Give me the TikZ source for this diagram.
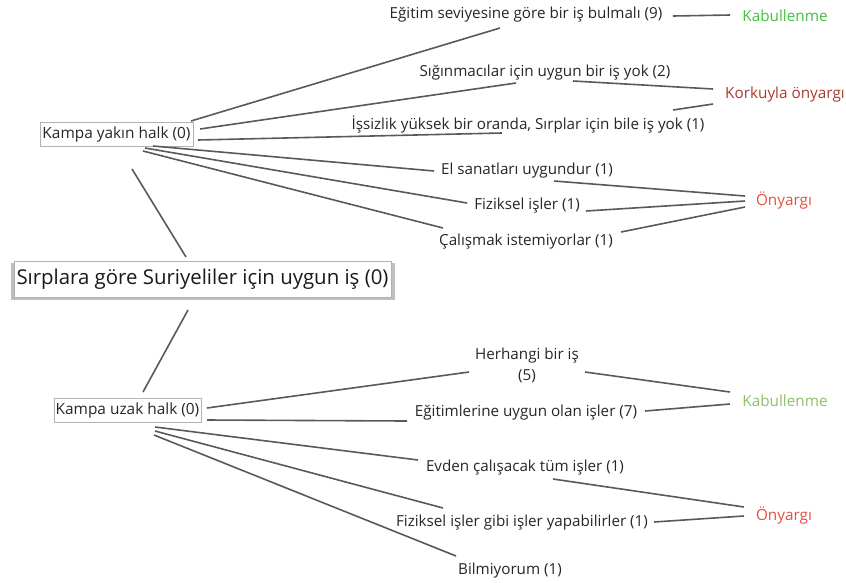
\documentclass[tikz,border=0pt]{standalone}
\usepackage{fontspec}
\setmainfont{Open Sans}
\begin{document}
\begin{tikzpicture}[x=1pt,y=-1pt,
  lbl/.style={inner sep=0pt, yshift=-2pt, font=\fontsize{15.2}{21}\selectfont, text=black!85},
  cat/.style={inner sep=0pt, font=\fontsize{15.3}{18}\selectfont},
  halk/.style={draw=black!30, line width=1pt, fill=white, inner sep=0pt,
    minimum height=24pt, font=\fontsize{15.4}{18}\selectfont, text=black!85},
  link/.style={draw=black!65, line width=1.6pt}]
\definecolor{accgreen}{HTML}{45BE45}
\definecolor{accolive}{HTML}{8CC068}
\definecolor{fearred}{HTML}{A83A2E}
\definecolor{biasred}{HTML}{E5503F}
\useasboundingbox (0,0) rectangle (846,582);

% root box with its shadow
\fill[black!25] (11,263) rectangle (395,300);
\node[draw=black!30, line width=1pt, fill=white, inner sep=0pt,
  minimum width=377pt, minimum height=36pt,
  font=\fontsize{20.4}{24}\selectfont, text=black!90] (root) at (202.5,279) {Sırplara göre Suriyeliler için uygun iş (0)};

% the two groups
\node[halk, minimum width=153pt] (near) at (116.5,134) {Kampa yakın halk (0)};
\node[halk, minimum width=147pt] (far) at (127.5,410.5) {Kampa uzak halk (0)};

% answers of the near group
\node[lbl] (n1) at (526,13) {Eğitim seviyesine göre bir iş bulmalı (9)};
\node[lbl] (n2) at (545,71) {Sığınmacılar için uygun bir iş yok (2)};
\node[lbl] (n3) at (528,122) {İşsizlik yüksek bir oranda, Sırplar için bile iş yok (1)};
\node[lbl] (n4) at (527,169) {El sanatları uygundur (1)};
\node[lbl] (n5) at (527,204) {Fiziksel işler (1)};
\node[lbl] (n6) at (526,240) {Çalışmak istemiyorlar (1)};

% answers of the far group
\node[lbl, align=center] (f1) at (527,363) {Herhangi bir iş\\(5)};
\node[lbl] (f2) at (526,411) {Eğitimlerine uygun olan işler (7)};
\node[lbl] (f3) at (525,466) {Evden çalışacak tüm işler (1)};
\node[lbl] (f4) at (522,521) {Fiziksel işler gibi işler yapabilirler (1)};
\node[lbl] (f5) at (510,569) {Bilmiyorum (1)};

% categories
\node[cat, text=accgreen] (ka) at (785,16) {Kabullenme};
\node[cat, text=fearred] (ko) at (785,95) {Korkuyla önyargı};
\node[cat, text=biasred] (on) at (784,200) {Önyargı};
\node[cat, text=accolive] (kb) at (785,401) {Kabullenme};
\node[cat, text=biasred] (ob) at (784,515) {Önyargı};

% connector ends
\coordinate (nearS) at (132,169);  \coordinate (rootN) at (186,257);
\coordinate (rootS) at (188,310);  \coordinate (farN) at (143,392);

\coordinate (near1) at (191,121); \coordinate (n1w) at (500,28);
\coordinate (near2) at (200,129); \coordinate (n2w) at (516,83);
\coordinate (near3) at (198,140); \coordinate (n3w) at (502,133);
\coordinate (near4) at (153,146); \coordinate (n4w) at (434,171);
\coordinate (near5) at (145,148); \coordinate (n5w) at (467,203);
\coordinate (near6) at (143,151); \coordinate (n6w) at (443,228);

\coordinate (n1e) at (673,16);  \coordinate (kaw) at (730,15);
\coordinate (n2e) at (573,81);  \coordinate (kow1) at (713,89);
\coordinate (n3e) at (673,110); \coordinate (kow2) at (713,104);
\coordinate (n4e) at (554,181); \coordinate (onw1) at (745,196);
\coordinate (n5e) at (586,211); \coordinate (onw2) at (745,201);
\coordinate (n6e) at (621,232); \coordinate (onw3) at (745,207);

\coordinate (far1) at (207,408); \coordinate (f1w) at (469,372);
\coordinate (far2) at (207,420); \coordinate (f2w) at (407,421);
\coordinate (far3) at (155,427); \coordinate (f3w) at (418,460);
\coordinate (far4) at (155,431); \coordinate (f4w) at (443,508);
\coordinate (far5) at (154,435); \coordinate (f5w) at (456,556);

\coordinate (f1e) at (585,372); \coordinate (kbw1) at (730,392);
\coordinate (f2e) at (645,411); \coordinate (kbw2) at (730,404);
\coordinate (f3e) at (553,479); \coordinate (obw1) at (744,507);
\coordinate (f4e) at (654,522); \coordinate (obw2) at (744,516);

% connectors
\draw[link] (nearS) -- (rootN);
\draw[link] (rootS) -- (farN);

\draw[link] (near1) -- (n1w);
\draw[link] (near2) -- (n2w);
\draw[link] (near3) -- (n3w);
\draw[link] (near4) -- (n4w);
\draw[link] (near5) -- (n5w);
\draw[link] (near6) -- (n6w);

\draw[link] (n1e) -- (kaw);
\draw[link] (n2e) -- (kow1);
\draw[link] (n3e) -- (kow2);
\draw[link] (n4e) -- (onw1);
\draw[link] (n5e) -- (onw2);
\draw[link] (n6e) -- (onw3);

\draw[link] (far1) -- (f1w);
\draw[link] (far2) -- (f2w);
\draw[link] (far3) -- (f3w);
\draw[link] (far4) -- (f4w);
\draw[link] (far5) -- (f5w);

\draw[link] (f1e) -- (kbw1);
\draw[link] (f2e) -- (kbw2);
\draw[link] (f3e) -- (obw1);
\draw[link] (f4e) -- (obw2);
\end{tikzpicture}
\end{document}
